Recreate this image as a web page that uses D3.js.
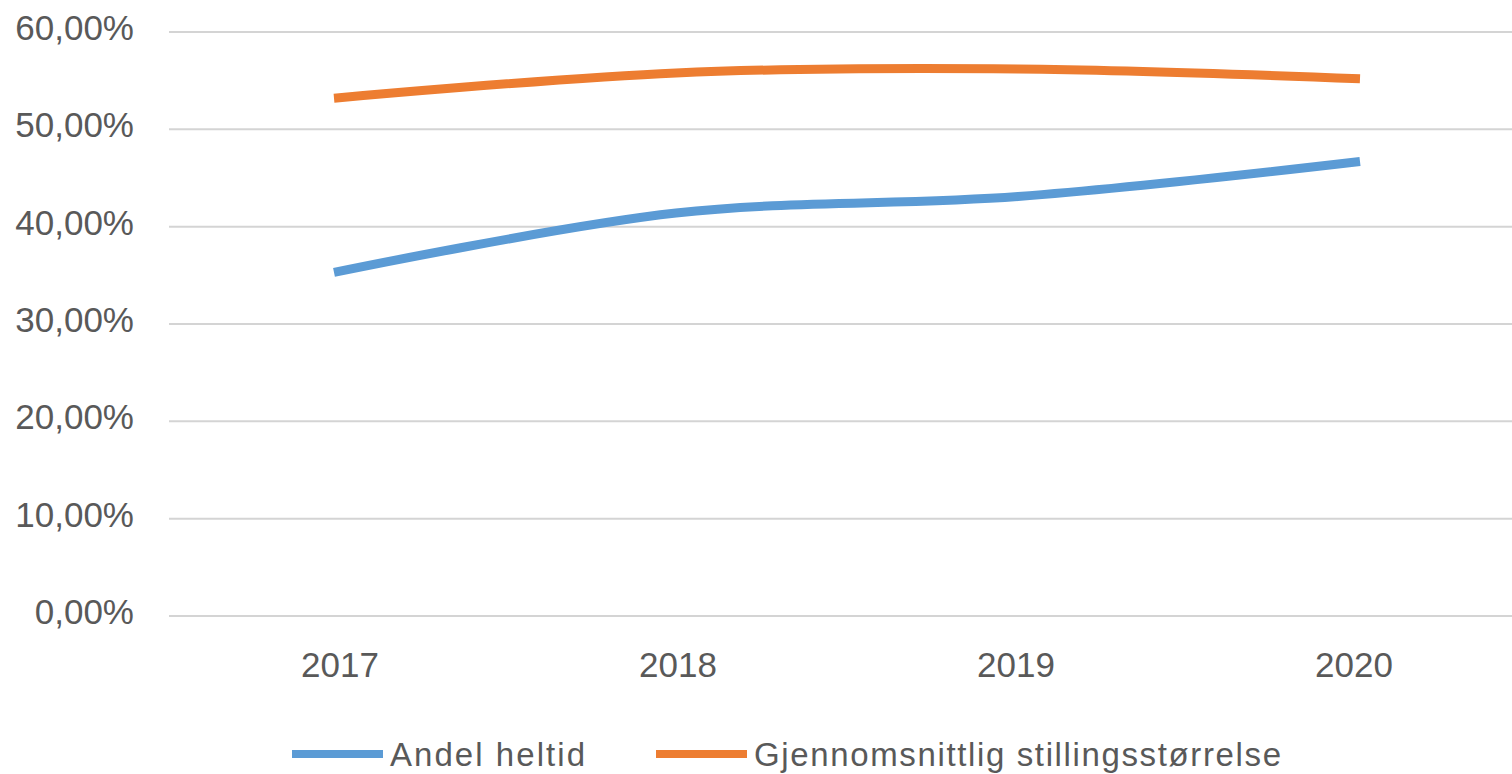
<!DOCTYPE html>
<html>
<head>
<meta charset="utf-8">
<script src="https://cdn.jsdelivr.net/npm/d3@7"></script>
<style>
  body { margin: 0; background: #fff; }
  svg text { font-family: "Liberation Sans", Arial, sans-serif; fill: #595959; }
</style>
</head>
<body>
<svg width="1512" height="774"></svg>
<script>
// data
const years = ['2017', '2018', '2019', '2020'];
const andelHeltid = [0.353, 0.414, 0.431, 0.467];
const stillingsstorrelse = [0.532, 0.558, 0.562, 0.552];
const yTicks = [0, 0.1, 0.2, 0.3, 0.4, 0.5, 0.6];

const series = [
    { name: 'Andel heltid', values: andelHeltid, color: '#5b9bd5' },
    { name: 'Gjennomsnittlig stillingsstørrelse', values: stillingsstorrelse, color: '#ed7d31' }
];

const svg = d3.select('svg');

// plot area runs a bit past the right edge, like the cropped original
const x = d3.scalePoint().domain(years).range([334, 1360]);
// category labels sit slightly tighter than the line points
const xLabel = d3.scalePoint().domain(years).range([340, 1354]);
const y = d3.scaleLinear().domain([0, 0.6]).range([616, 32]);

const fmt = v => d3.format('.2f')(v * 100).replace('.', ',') + '%';

// gridlines
svg.append('g').selectAll('line')
    .data(yTicks)
    .join('line')
    .attr('x1', 169).attr('x2', 1512)
    .attr('y1', d => y(d)).attr('y2', d => y(d))
    .attr('stroke', '#d4d4d4')
    .attr('stroke-width', 2);

// y labels
svg.append('g').selectAll('text')
    .data(yTicks)
    .join('text')
    .attr('x', 134)
    .attr('y', d => y(d) + 8)
    .attr('text-anchor', 'end')
    .style('font-size', '35px')
    .text(fmt);

// x labels
svg.append('g').selectAll('text')
    .data(years)
    .join('text')
    .attr('x', d => xLabel(d))
    .attr('y', 677)
    .attr('text-anchor', 'middle')
    .style('font-size', '35px')
    .text(d => d);

// lines
const line = d3.line()
    .x((d, i) => x(years[i]))
    .y(d => y(d))
    .curve(d3.curveCatmullRom.alpha(0.5));

svg.append('g').selectAll('path')
    .data(series)
    .join('path')
    .attr('d', d => line(d.values))
    .attr('fill', 'none')
    .attr('stroke', d => d.color)
    .attr('stroke-width', 9);

// legend
const legendX = [292, 656];
const legend = svg.append('g').selectAll('g')
    .data(series)
    .join('g')
    .attr('transform', (d, i) => `translate(${legendX[i]},754)`);
legend.append('line')
    .attr('x1', 0).attr('x2', 91)
    .attr('stroke', d => d.color)
    .attr('stroke-width', 8);
legend.append('text')
    .attr('x', 98)
    .attr('y', 12)
    .style('font-size', '33px')
    .attr('textLength', (d, i) => i === 0 ? 195 : 527)
    .text(d => d.name);
</script>
</body>
</html>
